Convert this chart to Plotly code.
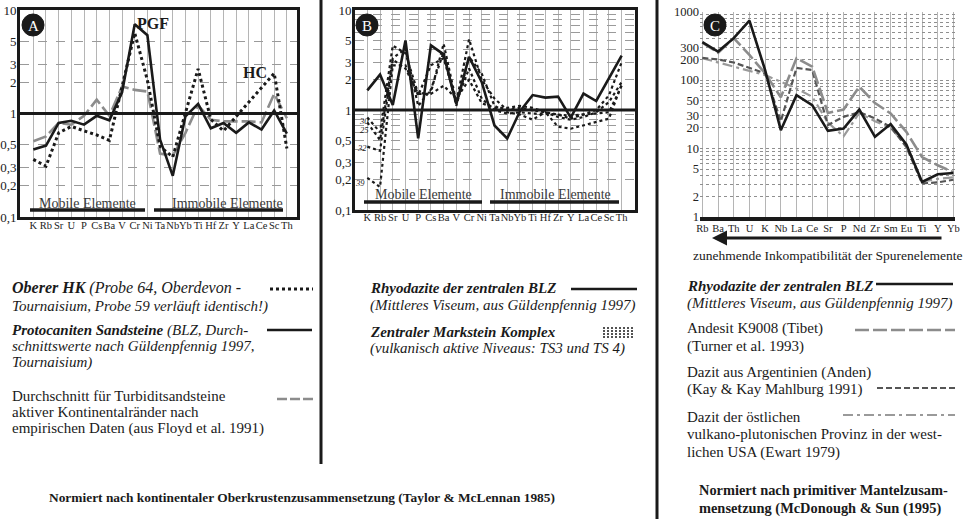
import plotly.graph_objects as go

W, H = 967, 519
def px(x): return x / W
def py(y): return 1 - y / H

FONT = "Liberation Serif"

# ---------------- data ----------------
elems_ab = ["K", "Rb", "Sr", "U", "P", "Cs", "Ba", "V", "Cr", "Ni", "Ta", "Nb", "Yb",
            "Ti", "Hf", "Zr", "Y", "La", "Ce", "Sc", "Th"]
elems_c = ["Rb", "Ba", "Th", "U", "K", "Nb", "La", "Ce", "Sr", "P", "Nd", "Zr", "Sm",
           "Eu", "Ti", "Y", "Yb"]

# Panel A (normalised to upper continental crust)
a_pgf = [0.45, 0.49, 0.81, 0.85, 0.78, 0.95, 0.86, 1.6, 7.3, 5.7, 0.56, 0.25, 0.94,
         1.24, 0.72, 0.81, 0.65, 0.82, 0.70, 1.07, 0.64]
a_hk = [0.36, 0.31, 0.65, 0.75, 0.68, 0.62, 0.55, 1.8, 6.0, 2.1, 0.48, 0.38, 1.0,
        2.7, 0.88, 0.68, None, None, None, 2.45, 0.46]
a_turb = [0.54, 0.60, 0.81, 0.78, 0.95, 1.36, 0.95, 1.82, 1.69, 1.63, 0.41, 0.39, 0.65,
          1.2, 0.87, 0.84, 0.84, 0.84, 0.82, 1.55, 0.90]

# Panel B
b_rhyo = [1.57, 2.26, 1.12, 4.96, 0.52, 4.43, 3.6, 1.15, 3.4, 1.9, 0.70, 0.52, 0.97,
          1.41, 1.33, 1.36, 0.84, 1.46, 1.23, 2.1, 3.5]
b_s30 = [0.84, 0.60, 4.4, 3.7, 1.45, 1.5, 4.6, 1.2, 5.1, 2.0, 1.3, 1.0, 1.05,
         1.0, 0.95, 0.9, 0.82, 0.9, 1.0, 1.4, 3.0]
b_s25 = [0.75, 0.50, 3.3, 4.1, 1.1, 1.6, 3.8, 1.1, 3.4, 2.3, 1.1, 0.95, 0.9,
         0.8, 0.95, 0.85, 0.8, 0.85, 0.95, 1.2, 1.9]
b_s32 = [0.43, 0.39, 3.2, 2.6, 1.45, 1.45, 1.75, 1.3, 2.0, 1.17, 1.05, 1.05, 1.1,
         1.05, 0.95, 0.68, 0.65, 0.7, 0.75, 0.82, 1.8]
b_s39 = [0.21, 0.17, 2.8, 2.8, 1.4, 2.8, 3.3, 1.2, 2.6, 1.3, 1.0, 0.92, 0.95,
         0.92, 0.92, 0.9, 0.88, 0.9, 0.92, 0.95, 1.75]
b_samples = {"30": b_s30, "25": b_s25, "32": b_s32, "39": b_s39}

# Panel C (normalised to primitive mantle)
c_rhyo = [356, 260, 408, 738, 140, 18.5, 60, 43, 18.1, 19.6, 37, 14.8, 22.7, 11.5, 3.24, 4.2, 4.4]
c_andesit = [350, 250, 408, 232, 125, 56, 208, 157, 33, 37, 80, 46, 32.5, 17.5, 7.5, 5.7, 4.5]
c_kay = [210, 200, 180, 150, 125, 25, 150, 140, 22, 29, 34, 27.5, 20.7, 10.5, 3.1, 3.2, 3.5]
c_ewart = [208, 179, 157, 136, 118, 94, 75, 57, 24, 15, 33, 25, 20, 11, 3.3, 3.6, 3.8]

# tick values / labels
ab_ticks = [0.1, 0.2, 0.3, 0.5, 1, 2, 3, 5, 10]
ab_ticktext = ["0,1", "0,2", "0,3", "0,5", "1", "2", "3", "5", "10"]
b_grid = [0.1, 0.2, 0.3, 0.4, 0.5, 0.6, 0.7, 0.8, 0.9, 1, 2, 3, 4, 5, 6, 7, 8, 9, 10]
c_grid = [1, 2, 3, 4, 5, 6, 7, 8, 9, 10, 20, 30, 40, 50, 60, 70, 80, 90,
          100, 200, 300, 400, 500, 600, 700, 800, 900, 1000]
c_labels = [1, 2, 5, 10, 20, 30, 50, 100, 200, 300, 1000]

# ---------------- figure ----------------
fig = go.Figure()
BLACK = "#1a1a1a"
GRAY = "#8c8c8c"
DGRAY = "#555555"

# Panel A
fig.add_trace(go.Scatter(x=elems_ab, y=a_turb, mode="lines", xaxis="x", yaxis="y",
                         line=dict(color=GRAY, width=2.6, dash="14px,4px")))
fig.add_trace(go.Scatter(x=elems_ab, y=a_hk, mode="lines", xaxis="x", yaxis="y", connectgaps=True,
                         line=dict(color=BLACK, width=3, dash="dot")))
fig.add_trace(go.Scatter(x=elems_ab, y=a_pgf, mode="lines", xaxis="x", yaxis="y",
                         line=dict(color=BLACK, width=2.6)))
# Panel B
for name, vals in b_samples.items():
    fig.add_trace(go.Scatter(x=elems_ab, y=vals, mode="lines", xaxis="x2", yaxis="y2",
                             line=dict(color=BLACK, width=2.2, dash="dot")))
fig.add_trace(go.Scatter(x=elems_ab, y=b_rhyo, mode="lines", xaxis="x2", yaxis="y2",
                         line=dict(color=BLACK, width=2.6)))
# Panel C
fig.add_trace(go.Scatter(x=elems_c, y=c_ewart, mode="lines", xaxis="x3", yaxis="y3",
                         line=dict(color="#9a9a9a", width=2.2, dash="10px,4px,3px,4px")))
fig.add_trace(go.Scatter(x=elems_c, y=c_kay, mode="lines", xaxis="x3", yaxis="y3",
                         line=dict(color=DGRAY, width=2.2, dash="6px,3px")))
fig.add_trace(go.Scatter(x=elems_c, y=c_andesit, mode="lines", xaxis="x3", yaxis="y3",
                         line=dict(color=GRAY, width=2.6, dash="14px,4px")))
fig.add_trace(go.Scatter(x=elems_c, y=c_rhyo, mode="lines", xaxis="x3", yaxis="y3",
                         line=dict(color=BLACK, width=2.6)))

tickfont = dict(family=FONT, size=13, color="#222")
ctickfont = dict(family=FONT, size=12.5, color="#222")
xtickfont = dict(family=FONT, size=10.5, color="#222")

common_x = dict(type="category", showgrid=True, gridcolor="#b5b5b5", gridwidth=1,
                ticks="", tickfont=xtickfont, zeroline=False, fixedrange=True,
                automargin=False, tickangle=0, tickmode="array")

fig.update_layout(
    width=W, height=H, margin=dict(l=0, r=0, t=0, b=0, autoexpand=False),
    paper_bgcolor="white", plot_bgcolor="white", showlegend=False,
    font=dict(family=FONT, color="#222"),
    xaxis=dict(**common_x, categoryorder="array", categoryarray=elems_ab,
               tickvals=elems_ab, ticktext=elems_ab,
               domain=[px(20), px(297)], range=[-1.05, 20.8], anchor="y",
               showline=True, mirror=True, linecolor=BLACK, linewidth=3, ticklabelstandoff=-4),
    yaxis=dict(type="log", domain=[py(217), py(10)], range=[-1, 1], anchor="x", automargin=False,
               tickvals=ab_ticks, ticktext=ab_ticktext, tickfont=tickfont, ticks="",
               ticklabelstandoff=-2,
               showgrid=True, gridcolor="#9a9a9a", griddash="dash", gridwidth=1,
               showline=True, mirror=True, linecolor=BLACK, linewidth=3, zeroline=False),
    xaxis2=dict(**common_x, categoryorder="array", categoryarray=elems_ab,
                tickvals=elems_ab, ticktext=elems_ab,
                domain=[px(355), px(635)], range=[-0.97, 21.05], anchor="y2",
                showline=True, mirror=True, linecolor=BLACK, linewidth=3, ticklabelstandoff=-5),
    yaxis2=dict(type="log", domain=[py(210), py(10)], range=[-1, 1], anchor="x2", automargin=False,
                tickvals=b_grid, ticktext=[ab_ticktext[ab_ticks.index(v)] if v in ab_ticks else "" for v in b_grid],
                tickfont=tickfont, ticks="", ticklabelstandoff=-2,
                showgrid=True, gridcolor="#9a9a9a", griddash="dash", gridwidth=1,
                showline=True, mirror=True, linecolor=BLACK, linewidth=3, zeroline=False),
    xaxis3=dict(**common_x, categoryorder="array", categoryarray=elems_c,
                tickvals=elems_c, ticktext=elems_c,
                domain=[px(700), px(955)], range=[-0.15, 16.1], anchor="y3",
                showline=True, linecolor=BLACK, linewidth=4, ticklabelstandoff=-2),
    yaxis3=dict(type="log", domain=[py(217), py(11.5)], range=[0, 3], anchor="x3", automargin=False,
                tickvals=c_grid, ticktext=[str(v) if v in c_labels else "" for v in c_grid],
                tickfont=ctickfont, ticks="",
                showgrid=True, gridcolor="#8f8f8f", griddash="dot", gridwidth=1,
                showline=False, zeroline=False),
)

shapes = []
# thick line at 1 (middle of log range) in A and B
for xa, ya in (("x", "y"), ("x2", "y2")):
    shapes.append(dict(type="line", xref=f"{xa} domain", yref=f"{ya} domain",
                       x0=0, x1=1, y0=0.5, y1=0.5, line=dict(color=BLACK, width=3)))
# Mobile / Immobile bars
for x0, x1, y in ((30, 145, 210), (154, 283, 210), (364, 482, 202), (490, 619, 202)):
    shapes.append(dict(type="line", xref="paper", yref="paper", x0=px(x0), x1=px(x1),
                       y0=py(y), y1=py(y), line=dict(color=BLACK, width=3.5)))
# separators
shapes.append(dict(type="line", xref="paper", yref="paper", x0=px(321), x1=px(321),
                   y0=py(0), y1=py(464), line=dict(color=BLACK, width=3)))
shapes.append(dict(type="line", xref="paper", yref="paper", x0=px(657), x1=px(657),
                   y0=py(0), y1=py(519), line=dict(color=BLACK, width=3)))
# panel circles
for cx, cy in ((33, 25), (367, 25), (715, 25)):
    shapes.append(dict(type="circle", xref="paper", yref="paper",
                       x0=px(cx - 11), x1=px(cx + 11), y0=py(cy + 11), y1=py(cy - 11),
                       fillcolor=BLACK, line=dict(color=BLACK, width=1)))
# legend samples
def seg(x0, x1, y, color, width, dash):
    shapes.append(dict(type="line", xref="paper", yref="paper", x0=px(x0), x1=px(x1),
                       y0=py(y), y1=py(y), line=dict(color=color, width=width, dash=dash)))
seg(270, 313, 289, BLACK, 3, "dot")
seg(267, 312, 330, BLACK, 2.6, "solid")
seg(277, 313, 399, GRAY, 2.6, "10px,3px")
seg(571, 637, 289, BLACK, 2.6, "solid")
for yy in (328, 331, 334, 337):
    seg(603, 635, yy, BLACK, 1.6, "2px,2px")
seg(876, 953, 284, BLACK, 2.6, "solid")
seg(855, 955, 330, GRAY, 2.6, "14px,4px")
seg(877, 955, 388, DGRAY, 2.2, "6px,3px")
seg(843, 955, 415, "#9a9a9a", 2.2, "10px,4px,3px,4px")
fig.update_layout(shapes=shapes)

ann = []
def txt(x, y, s, size=15, xanchor="left", color="#1a1a1a", **kw):
    ann.append(dict(xref="paper", yref="paper", x=px(x), y=py(y), text=s, showarrow=False,
                    xanchor=xanchor, yanchor="middle", font=dict(family=FONT, size=size, color=color), **kw))

for cx, s in ((33, "A"), (367, "B"), (715, "C")):
    txt(cx, 25.5, s, size=15, xanchor="center", color="white")
txt(153, 24, "<b>PGF</b>", size=16, xanchor="center")
txt(255, 73, "<b>HC</b>", size=16, xanchor="center")
txt(87, 203, "Mobile Elemente", size=14, xanchor="center", color="#3a3a3a")
txt(227, 203, "Immobile Elemente", size=14, xanchor="center", color="#3a3a3a")
txt(423, 194, "Mobile Elemente", size=14, xanchor="center", color="#3a3a3a")
txt(555, 194, "Immobile Elemente", size=14, xanchor="center", color="#3a3a3a")
for lab, (xx, yy) in {"30": (364, 121), "25": (364, 130), "32": (362, 148), "39": (360, 183)}.items():
    txt(xx, yy, f"<i>{lab}</i>", size=8.5, xanchor="center")
txt(828, 255, "zunehmende Inkompatibilität der Spurenelemente", size=13.5, xanchor="center")
ann.append(dict(xref="paper", yref="paper", axref="pixel", ayref="pixel",
                x=px(712), y=py(238), ax=231, ay=0, text="", showarrow=True,
                arrowhead=2, arrowsize=1, arrowwidth=3, arrowcolor=BLACK))

# legend texts A
txt(10, 288, "<b><i>Oberer HK</i></b><i> (Probe 64, Oberdevon -</i>", size=16)
txt(10, 307, "<i>Tournaisium, Probe 59 verläuft identisch!)</i>")
txt(10, 330, "<b><i>Protocaniten Sandsteine</i></b><i> (BLZ, Durch-</i>")
txt(10, 346, "<i>schnittswerte nach Güldenpfennig 1997,</i>")
txt(10, 362, "<i>Tournaisium)</i>")
txt(10, 396, "Durchschnitt für Turbiditsandsteine")
txt(10, 412, "aktiver Kontinentalränder nach")
txt(10, 428, "empirischen Daten (aus Floyd et al. 1991)")
# legend texts B
txt(368, 288, "<b><i>Rhyodazite der zentralen BLZ</i></b>")
txt(368, 305, "<i>(Mittleres Viseum, aus Güldenpfennig 1997)</i>")
txt(368, 332, "<b><i>Zentraler Markstein Komplex</i></b>")
txt(368, 348, "<i>(vulkanisch aktive Niveaus: TS3 und TS 4)</i>")
# legend texts C
txt(685, 286, "<b><i>Rhyodazite der zentralen BLZ</i></b>")
txt(685, 303, "<i>(Mittleres Viseum, aus Güldenpfennig 1997)</i>")
txt(685, 328, "Andesit K9008 (Tibet)")
txt(685, 346, "(Turner et al. 1993)")
txt(685, 372, "Dazit aus Argentinien (Anden)")
txt(685, 389, "(Kay &amp; Kay Mahlburg 1991)")
txt(685, 417, "Dazit der östlichen")
txt(685, 434, "vulkano-plutonischen Provinz in der west-")
txt(685, 452, "lichen USA (Ewart 1979)")
txt(697, 490, "<b>Normiert nach primitiver Mantelzusam-</b>", size=14.4)
txt(697, 508, "<b>mensetzung (McDonough &amp; Sun (1995)</b>", size=14.4)
txt(302, 497, "<b>Normiert nach kontinentaler Oberkrustenzusammensetzung (Taylor &amp; McLennan 1985)</b>",
    xanchor="center", size=13.4)
fig.update_layout(annotations=ann)

fig.write_html("out.html", config={"displayModeBar": False},
               post_script="document.body.style.margin='0px';")
